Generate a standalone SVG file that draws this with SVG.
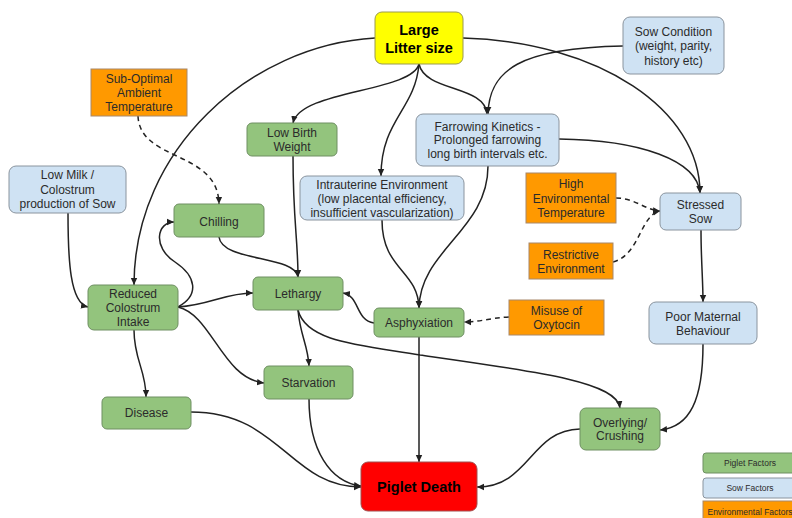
<svg xmlns="http://www.w3.org/2000/svg" width="792" height="518" viewBox="0 0 792 518">
<defs>
<marker id="ah" markerWidth="8" markerHeight="8" refX="7" refY="4" orient="auto" markerUnits="userSpaceOnUse">
<path d="M0,0.8 L7,4 L0,7.2 Z" fill="#222"/>
</marker>
<style>
.g{fill:#93c47d;stroke:#6e8f62;stroke-width:1}
.b{fill:#cfe2f3;stroke:#8a949e;stroke-width:1}
.o{fill:#ff9900;stroke:#a8886a;stroke-width:1}
.y{fill:#ffff00;stroke:#9a9a50;stroke-width:1}
.r{fill:#ff0000;stroke:#a05050;stroke-width:1}
text{font-family:"Liberation Sans",Arial,sans-serif;font-size:12px;fill:#2b2b2b;text-anchor:middle}
.bold{font-weight:bold;font-size:14.5px;fill:#000}
.lg{font-size:8.5px}
.c path{fill:none;stroke:#222;stroke-width:1.5;marker-end:url(#ah)}
.c path.d{stroke-dasharray:5,4}
</style>
</defs>
<rect width="792" height="518" fill="#fff"/>
<g class="c" id="connectors">
<path d="M375,38 C250,45 134,150 134,285"/>
<path d="M419,64 C412,92 300,90 293,123"/>
<path d="M419,64 C415,110 381,120 381,176"/>
<path d="M419,64 C425,92 485,85 487,114"/>
<path d="M463,38 C600,42 700,110 700,193"/>
<path d="M623,46 C520,48 489,70 488,114"/>
<path d="M559,139 C640,140 697,160 700,193"/>
<path d="M488,166 C488,230 420,250 419,308"/>
<path d="M382,220 C382,270 418,270 419,308"/>
<path d="M293,156 C293,220 298,240 298,277"/>
<path d="M219,237 C222,262 295,255 298,277"/>
<path d="M178,307 C200,295 196,276 175,262 C152,247 157,222 174,222"/>
<path d="M178,307 C210,305 225,293 253,293"/>
<path d="M178,307 C212,315 222,378 264,383"/>
<path d="M134,330 C134,360 146,370 146,397"/>
<path d="M68,213 C68,260 70,303 88,307"/>
<path class="d" d="M138,116 C140,162 218,150 219,204"/>
<path d="M298,310 C300,335 308,345 309,366"/>
<path d="M298,310 C306,342 360,345 420,355 C540,372 617,382 620,408"/>
<path d="M374,323 C355,320 360,296 343,293"/>
<path class="d" d="M509,317 C490,318 480,322 464,322"/>
<path d="M419,337 L419,462"/>
<path class="d" d="M616,198 C635,198 645,210 660,211"/>
<path class="d" d="M613,262 C640,255 640,215 660,211"/>
<path d="M701,230 C701,260 703,280 703,302"/>
<path d="M703,344 C703,400 690,427 660,430"/>
<path d="M580,429 C530,430 530,487 477,487"/>
<path d="M309,399 C309,450 330,482 361,486"/>
<path d="M191,412 C280,412 290,487 361,487"/>
</g>
<g id="large-litter"><rect class="y" x="375" y="12" width="88" height="52" rx="7"/><text class="bold" x="419" y="35">Large</text><text class="bold" x="419" y="53">Litter size</text></g>
<g id="sow-condition"><rect class="b" x="623" y="17" width="101" height="57" rx="7"/><text x="673.5" y="36">Sow Condition</text><text x="673.5" y="50">(weight, parity,</text><text x="673.5" y="65">history etc)</text></g>
<g id="sub-optimal"><rect class="o" x="91" y="69" width="96" height="47"/><text x="139" y="83">Sub-Optimal</text><text x="139" y="97">Ambient</text><text x="139" y="111">Temperature</text></g>
<g id="low-birth-weight"><rect class="g" x="247" y="123" width="90" height="33" rx="5"/><text x="292" y="137">Low Birth</text><text x="292" y="151">Weight</text></g>
<g id="farrowing"><rect class="b" x="416" y="114" width="143" height="52" rx="7"/><text x="487.5" y="131">Farrowing Kinetics -</text><text x="487.5" y="144">Prolonged farrowing</text><text x="487.5" y="158">long birth intervals etc.</text></g>
<g id="low-milk"><rect class="b" x="9" y="166" width="117" height="47" rx="7"/><text x="67.5" y="179">Low Milk /</text><text x="67.5" y="194">Colostrum</text><text x="67.5" y="208">production of Sow</text></g>
<g id="intrauterine"><rect class="b" x="300" y="176" width="164" height="44" rx="7"/><text x="382" y="189">Intrauterine Environment</text><text x="382" y="203">(low placental efficiency,</text><text x="382" y="217">insufficient vascularization)</text></g>
<g id="high-env"><rect class="o" x="526" y="173" width="90" height="50"/><text x="571" y="188">High</text><text x="571" y="203">Environmental</text><text x="571" y="217">Temperature</text></g>
<g id="stressed-sow"><rect class="b" x="660" y="193" width="81" height="37" rx="6"/><text x="700.5" y="209">Stressed</text><text x="700.5" y="223">Sow</text></g>
<g id="chilling"><rect class="g" x="174" y="204" width="90" height="33" rx="5"/><text x="219" y="226">Chilling</text></g>
<g id="restrictive"><rect class="o" x="529" y="243" width="84" height="36"/><text x="571" y="259">Restrictive</text><text x="571" y="273">Environment</text></g>
<g id="lethargy"><rect class="g" x="253" y="277" width="90" height="33" rx="5"/><text x="298" y="298">Lethargy</text></g>
<g id="reduced-colostrum"><rect class="g" x="88" y="285" width="90" height="45" rx="6"/><text x="133" y="298">Reduced</text><text x="133" y="312">Colostrum</text><text x="133" y="326">Intake</text></g>
<g id="misuse-oxytocin"><rect class="o" x="509" y="300" width="95" height="35"/><text x="556.5" y="315">Misuse of</text><text x="556.5" y="329">Oxytocin</text></g>
<g id="poor-maternal"><rect class="b" x="649" y="302" width="108" height="42" rx="7"/><text x="703" y="321">Poor Maternal</text><text x="703" y="335">Behaviour</text></g>
<g id="asphyxiation"><rect class="g" x="374" y="308" width="90" height="29" rx="5"/><text x="419" y="327">Asphyxiation</text></g>
<g id="starvation"><rect class="g" x="264" y="366" width="89" height="33" rx="5"/><text x="308.5" y="387">Starvation</text></g>
<g id="disease"><rect class="g" x="102" y="397" width="89" height="32" rx="5"/><text x="146.5" y="417">Disease</text></g>
<g id="overlying"><rect class="g" x="580" y="408" width="80" height="42" rx="6"/><text x="620" y="427">Overlying/</text><text x="620" y="440">Crushing</text></g>
<g id="piglet-death"><rect class="r" x="361" y="462" width="116" height="49" rx="7"/><text class="bold" x="419" y="492">Piglet Death</text></g>
<g id="legend">
<g id="legend-piglet"><rect class="g" x="703" y="453" width="94" height="20" rx="3"/><text class="lg" x="750" y="466">Piglet Factors</text></g>
<g id="legend-sow"><rect class="b" x="703" y="478" width="94" height="20" rx="3"/><text class="lg" x="750" y="491">Sow Factors</text></g>
<g id="legend-env"><rect class="o" x="703" y="501" width="94" height="22"/><text class="lg" x="750" y="515">Environmental Factors</text></g>
</g>
</svg>
